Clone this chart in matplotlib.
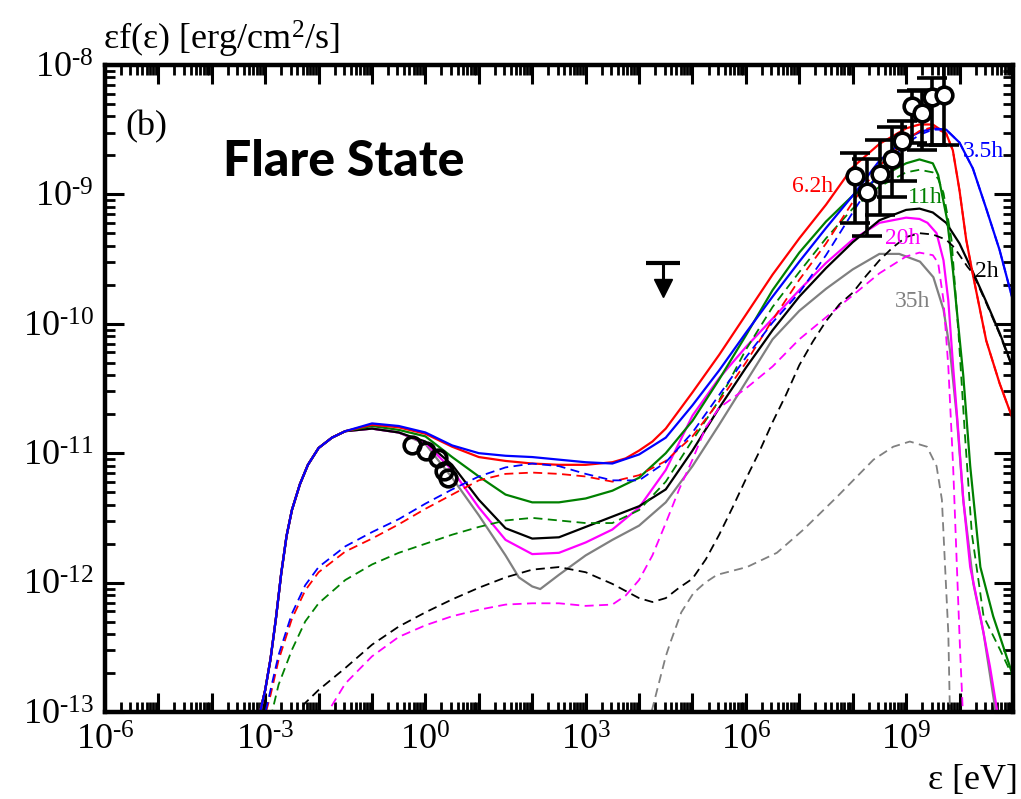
import numpy as np
import matplotlib
matplotlib.use("Agg")
import matplotlib.pyplot as plt
from matplotlib.ticker import LogLocator, FuncFormatter, NullFormatter

plt.rcParams["font.family"] = ["Liberation Serif", "DejaVu Serif"]
plt.rcParams["mathtext.fontset"] = "custom"
plt.rcParams["mathtext.rm"] = "Liberation Serif"
plt.rcParams["mathtext.it"] = "Liberation Serif:italic"
plt.rcParams["mathtext.bf"] = "Liberation Serif:bold"

# all values are log10(energy [eV]) and log10(flux [erg/cm2/s])
rise_x = [-3.15, -3.0, -2.9, -2.8, -2.7, -2.6, -2.5, -2.35, -2.2, -2.0, -1.75, -1.5]
rise_y = [-13.1, -12.83, -12.59, -12.28, -11.93, -11.64, -11.44, -11.24, -11.09, -10.96, -10.88, -10.83]

blue_x = [-1.0, -0.5, 0.0, 0.5, 1.0, 1.5, 2.0, 2.5, 3.0, 3.5, 4.0, 4.5, 5.0, 5.5, 6.0, 6.5, 7.0,
          7.5, 8.0, 8.5, 9.0, 9.25, 9.5, 9.75, 10.0, 10.25, 10.5, 10.75, 11.0]
blue_y = [-10.77, -10.79, -10.84, -10.94, -11.00, -11.02, -11.03, -11.05, -11.07, -11.08, -11.01,
          -10.88, -10.63, -10.36, -10.07, -9.79, -9.52, -9.26, -9.01, -8.74, -8.57, -8.52, -8.49,
          -8.50, -8.60, -8.80, -9.11, -9.43, -9.82]

red_x = [-1.0, -0.5, 0.0, 0.5, 1.0, 1.5, 2.0, 2.5, 3.0, 3.5, 3.75, 4.0, 4.25, 4.5, 5.0, 5.5, 6.0,
         6.5, 7.0, 7.5, 8.0, 8.5, 9.0, 9.25, 9.5, 9.75, 9.875, 10.0, 10.125, 10.25, 10.5, 10.75, 11.0]
red_y = [-10.78, -10.80, -10.85, -10.95, -11.03, -11.06, -11.08, -11.09, -11.09, -11.07, -11.04,
         -10.98, -10.91, -10.81, -10.53, -10.24, -9.93, -9.62, -9.34, -9.08, -8.79, -8.61, -8.49,
         -8.46, -8.46, -8.53, -8.66, -8.97, -9.35, -9.62, -10.13, -10.46, -10.74]

green_x = [-1.0, -0.5, 0.0, 0.5, 1.0, 1.5, 2.0, 2.5, 3.0, 3.5, 4.0, 4.5, 5.0, 5.5, 6.0, 6.5, 7.0,
           7.5, 8.0, 8.5, 9.0, 9.25, 9.5, 9.6, 9.77, 9.88, 9.95, 10.07, 10.2, 10.39, 10.63, 11.0]
green_y = [-10.79, -10.82, -10.87, -11.03, -11.18, -11.32, -11.38, -11.38, -11.35, -11.29, -11.19,
           -11.00, -10.75, -10.43, -10.09, -9.74, -9.45, -9.21, -9.01, -8.87, -8.76, -8.73, -8.76,
           -8.85, -9.2, -9.6, -9.9, -10.4, -11.1, -11.88, -12.26, -12.72]

black_x = [-1.0, -0.5, 0.0, 0.5, 1.0, 1.5, 2.0, 2.5, 3.0, 3.5, 4.0, 4.5, 5.0, 5.5, 6.0, 6.5, 7.0,
           7.5, 8.0, 8.5, 9.0, 9.25, 9.5, 9.75, 10.0, 10.25, 10.5, 10.75, 11.0]
black_y = [-10.81, -10.84, -10.91, -11.09, -11.36, -11.58, -11.66, -11.65, -11.57, -11.49, -11.41,
           -11.28, -10.98, -10.65, -10.34, -10.05, -9.79, -9.57, -9.37, -9.20, -9.12, -9.11, -9.14,
           -9.22, -9.38, -9.60, -9.83, -10.07, -10.34]

magenta_x = [-1.0, -0.5, 0.0, 0.5, 1.0, 1.5, 2.0, 2.5, 3.0, 3.5, 4.0, 4.5, 5.0, 5.5, 6.0, 6.5,
             7.0, 7.5, 8.0, 8.5, 9.0, 9.25, 9.4, 9.57, 9.7, 9.79, 9.88, 9.98, 10.07, 10.2, 10.39,
             10.57, 10.7, 10.75]
magenta_y = [-10.81, -10.84, -10.92, -11.13, -11.42, -11.67, -11.78, -11.77, -11.69, -11.59,
             -11.42, -11.13, -10.71, -10.42, -10.18, -9.96, -9.74, -9.53, -9.35, -9.22, -9.18,
             -9.19, -9.22, -9.30, -9.51, -9.82, -10.33, -10.85, -11.36, -11.88, -12.26, -12.65,
             -12.98, -13.1]

gray_x = [-1.0, -0.5, 0.0, 0.5, 1.0, 1.5, 1.75, 2.0, 2.15, 2.5, 3.0, 3.5, 4.0, 4.5, 5.0, 5.5,
          6.0, 6.5, 7.0, 7.5, 8.0, 8.5, 8.87, 9.26, 9.51, 9.70, 9.82, 9.95, 10.07, 10.26, 10.45,
          10.67, 10.72]
gray_y = [-10.81, -10.84, -10.93, -11.19, -11.48, -11.79, -11.96, -12.03, -12.05, -11.94, -11.79,
          -11.67, -11.56, -11.38, -11.10, -10.78, -10.45, -10.12, -9.90, -9.73, -9.58, -9.46,
          -9.46, -9.52, -9.64, -9.89, -10.20, -10.72, -11.36, -12.01, -12.39, -12.98, -13.1]

blue_d_x = [-3.05, -2.9, -2.75, -2.5, -2.25, -2.0, -1.5, -1.0, -0.5, 0.0, 0.5, 1.0, 1.5, 2.0, 2.5,
            3.0, 3.5, 4.0, 4.5, 5.0, 5.5, 6.0, 6.5, 7.0, 7.5, 8.0, 8.5, 9.0, 9.25, 9.5, 9.75, 10.0,
            10.25, 10.5, 10.75, 11.0]
blue_d_y = [-13.1, -12.83, -12.56, -12.24, -12.02, -11.88, -11.72, -11.61, -11.51, -11.39, -11.28,
            -11.18, -11.11, -11.08, -11.10, -11.16, -11.21, -11.21, -11.07, -10.84, -10.55, -10.26,
            -9.99, -9.76, -9.47, -9.14, -8.82, -8.61, -8.54, -8.50, -8.50, -8.60, -8.80, -9.11,
            -9.43, -9.82]

red_d_x = [-3.05, -2.9, -2.75, -2.5, -2.25, -2.0, -1.5, -1.0, -0.5, 0.0, 0.5, 1.0, 1.5, 2.0, 2.5,
           3.0, 3.5, 4.0, 4.5, 5.0, 5.5, 6.0, 6.5, 7.0, 7.5, 8.0, 8.5, 9.0, 9.25, 9.5, 9.75, 9.875,
           10.0, 10.125, 10.25, 10.5, 10.75, 11.0]
red_d_y = [-13.1, -12.87, -12.60, -12.28, -12.06, -11.92, -11.76, -11.66, -11.55, -11.43, -11.32,
           -11.21, -11.16, -11.15, -11.16, -11.18, -11.22, -11.17, -11.06, -10.87, -10.60, -10.30,
           -9.97, -9.66, -9.38, -9.06, -8.78, -8.58, -8.51, -8.48, -8.53, -8.66, -8.97, -9.35,
           -9.62, -10.13, -10.46, -10.74]

green_d_x = [-2.9, -2.75, -2.5, -2.25, -2.0, -1.5, -1.0, -0.5, 0.0, 0.5, 1.0, 1.5, 2.0, 2.5, 3.0,
             3.5, 4.0, 4.5, 5.0, 5.5, 6.0, 6.5, 7.0, 7.5, 8.0, 8.5, 9.0, 9.25, 9.5, 9.6, 9.7, 9.79,
             9.85, 9.98, 10.1, 10.23, 10.45, 10.76, 11.0]
green_d_y = [-13.05, -12.79, -12.52, -12.30, -12.16, -11.98, -11.86, -11.77, -11.70, -11.63, -11.57,
             -11.52, -11.50, -11.52, -11.54, -11.54, -11.44, -11.22, -10.90, -10.59, -10.20, -9.87,
             -9.60, -9.34, -9.11, -8.94, -8.83, -8.81, -8.83, -8.88, -8.99, -9.2, -9.35, -10.07,
             -10.85, -11.62, -12.26, -12.52, -12.73]

black_d_x = [-2.45, -2.25, -2.0, -1.5, -1.0, -0.5, 0.0, 0.5, 1.0, 1.5, 2.0, 2.5, 3.0, 3.5, 4.0,
             4.25, 4.5, 4.75, 5.0, 5.25, 5.5, 5.75, 6.0, 6.25, 6.5, 6.75, 7.0, 7.25, 7.5, 7.75, 8.0,
             8.25, 8.5, 8.75, 9.0, 9.25, 9.5, 9.75, 9.9, 10.15, 10.25, 10.5, 10.75, 11.0]
black_d_y = [-13.05, -12.93, -12.83, -12.66, -12.48, -12.34, -12.23, -12.13, -12.04, -11.96, -11.90,
             -11.88, -11.92, -12.01, -12.12, -12.15, -12.12, -12.04, -11.97, -11.82, -11.63, -11.42,
             -11.20, -10.99, -10.76, -10.55, -10.32, -10.14, -9.98, -9.85, -9.76, -9.63, -9.51,
             -9.41, -9.33, -9.30, -9.31, -9.35, -9.41, -9.56, -9.61, -9.84, -10.08, -10.35]

magenta_d_x = [-1.9, -1.5, -1.0, -0.5, 0.0, 0.5, 1.0, 1.5, 2.0, 2.5, 3.0, 3.5, 3.75, 4.0, 4.25,
               4.5, 4.75, 5.0, 5.25, 5.5, 6.0, 6.5, 7.0, 7.5, 8.0, 8.5, 9.0, 9.25, 9.5, 9.6, 9.7,
               9.79, 9.88, 9.95, 10.01, 10.06, 10.1]
magenta_d_y = [-13.05, -12.78, -12.57, -12.42, -12.33, -12.26, -12.21, -12.17, -12.16, -12.16,
               -12.18, -12.17, -12.10, -11.98, -11.79, -11.54, -11.28, -11.05, -10.80, -10.65,
               -10.50, -10.33, -10.12, -9.95, -9.78, -9.61, -9.48, -9.45, -9.47, -9.53, -9.82,
               -10.33, -11.10, -11.87, -12.52, -12.98, -13.3]

gray_d_x = [4.17, 4.5, 4.58, 4.79, 5.02, 5.24, 5.46, 6.02, 6.58, 7.08, 7.70, 8.39, 8.76, 9.07,
            9.39, 9.57, 9.67, 9.73, 9.79, 9.82, 9.84]
gray_d_y = [-13.1, -12.57, -12.47, -12.23, -12.08, -12.00, -11.94, -11.88, -11.77, -11.59, -11.34,
            -11.05, -10.95, -10.91, -10.95, -11.10, -11.36, -11.88, -12.39, -13.0, -13.2]

# optical points
opt_x = [-0.26, 0.02, 0.24, 0.34, 0.43]
opt_y = [-10.94, -10.98, -11.04, -11.14, -11.19]

# gamma-ray points with error bars
gam_x = [8.05, 8.26, 8.51, 8.73, 8.92, 9.11, 9.29, 9.48, 9.70]
gam_y = [-8.86, -8.98, -8.84, -8.73, -8.59, -8.32, -8.37, -8.25, -8.23]
gam_lo = [-9.22, -9.32, -9.16, -9.02, -8.90, -8.60, -8.66, -8.62, -8.62]
gam_hi = [-8.68, -8.73, -8.58, -8.48, -8.43, -8.20, -8.19, -8.10, -8.00]

# upper limit
ul_x = 4.44
ul_y = -9.53

labels = ["3.5h", "6.2h", "11h", "20h", "2h", "35h"]
label_x = [10.07, 6.86, 9.04, 8.61, 10.29, 8.79]
label_y = [-8.71, -8.98, -9.07, -9.38, -9.64, -9.87]
label_c = ["blue", "red", "green", "magenta", "black", "gray"]

fig = plt.figure(figsize=(10.21, 7.99), dpi=100)
ax = fig.add_axes([0.1028, 0.1089, 0.8893, 0.8098])


def p(x):
    return 10.0 ** np.asarray(x)


lw = 1.6
dl = 1.3
ds = (5, 3)
ax.plot(p(rise_x + gray_x), p(rise_y + gray_y), color="gray", lw=lw)
ax.plot(p(rise_x + magenta_x), p(rise_y + magenta_y), color="magenta", lw=lw)
ax.plot(p(rise_x + black_x), p(rise_y + black_y), color="black", lw=lw)
ax.plot(p(rise_x + green_x), p(rise_y + green_y), color="green", lw=lw)
ax.plot(p(rise_x + red_x), p(rise_y + red_y), color="red", lw=lw)
ax.plot(p(rise_x + blue_x), p(rise_y + blue_y), color="blue", lw=lw)

ax.plot(p(gray_d_x), p(gray_d_y), color="gray", lw=dl, dashes=ds)
ax.plot(p(magenta_d_x), p(magenta_d_y), color="magenta", lw=dl, dashes=ds)
ax.plot(p(black_d_x), p(black_d_y), color="black", lw=dl, dashes=ds)
ax.plot(p(green_d_x), p(green_d_y), color="green", lw=dl, dashes=ds)
ax.plot(p(red_d_x), p(red_d_y), color="red", lw=dl, dashes=ds)
ax.plot(p(blue_d_x), p(blue_d_y), color="blue", lw=dl, dashes=ds)

ax.plot(p(opt_x), p(opt_y), "o", ms=12, mfc="none", mec="black", mew=2.6)

gy = p(gam_y)
yerr = [gy - p(gam_lo), p(gam_hi) - gy]
ax.errorbar(p(gam_x), gy, yerr=yerr, fmt="o", ms=12, mfc="white", mec="black", mew=2.6,
            ecolor="black", elinewidth=2.6, capsize=11, capthick=2.6)

# upper limit arrow
ax.plot([p(ul_x)], [p(ul_y)], marker="_", ms=24, mew=3, color="black")
ax.plot([p(ul_x), p(ul_x)], [p(ul_y), p(ul_y - 0.13)], color="black", lw=2.2)
ax.plot([p(ul_x)], [p(ul_y - 0.19)], marker="v", ms=13, color="black")

for t, x, y, c in zip(labels, label_x, label_y, label_c):
    ax.text(p(x), p(y), t, color=c, fontsize=17, ha="left", va="baseline")

ax.set_xscale("log")
ax.set_yscale("log")
ax.set_xlim(1e-6, 1e11)
ax.set_ylim(1e-13, 1e-8)

ax.xaxis.set_major_locator(LogLocator(base=10, numticks=30))
ax.xaxis.set_minor_locator(LogLocator(base=10, subs=np.arange(2, 10), numticks=30))
ax.yaxis.set_major_locator(LogLocator(base=10, numticks=30))
ax.yaxis.set_minor_locator(LogLocator(base=10, subs=np.arange(2, 10), numticks=30))


def tick_text(e):
    s = str(e).replace("-", "\u2010")
    return r"$10^{%s}$" % s


def xfmt(v, pos):
    e = int(round(np.log10(v)))
    if e % 3 != 0 or e < -6 or e > 11:
        return ""
    return tick_text(e)


def yfmt(v, pos):
    e = int(round(np.log10(v)))
    if e < -13 or e > -8:
        return ""
    return tick_text(e)


ax.xaxis.set_major_formatter(FuncFormatter(xfmt))
ax.yaxis.set_major_formatter(FuncFormatter(yfmt))
ax.xaxis.set_minor_formatter(NullFormatter())
ax.yaxis.set_minor_formatter(NullFormatter())

ax.tick_params(which="both", direction="in", top=True, right=True, labelsize=26)
ax.tick_params(which="major", length=14, width=2.2)
ax.tick_params(which="minor", length=7.5, width=2.0)
ax.tick_params(axis="x", pad=9)
ax.tick_params(axis="y", pad=8)
for s in ax.spines.values():
    s.set_linewidth(3.2)

ax.text(0.022, 0.905, "(b)", transform=ax.transAxes, fontsize=26, va="center")
ax.text(0.13, 0.828, "Flare State", transform=ax.transAxes, fontsize=36,
        family="Lato", weight="black", va="baseline")

fig.text(103 / 1021, 1 - 50 / 799, r"εf(ε) [erg/cm$^2$/s]", fontsize=26, va="baseline")
fig.text(1018 / 1021, 1 - 789 / 799, "ε [eV]", fontsize=26, ha="right", va="baseline")

fig.savefig("out.png", dpi=100)
